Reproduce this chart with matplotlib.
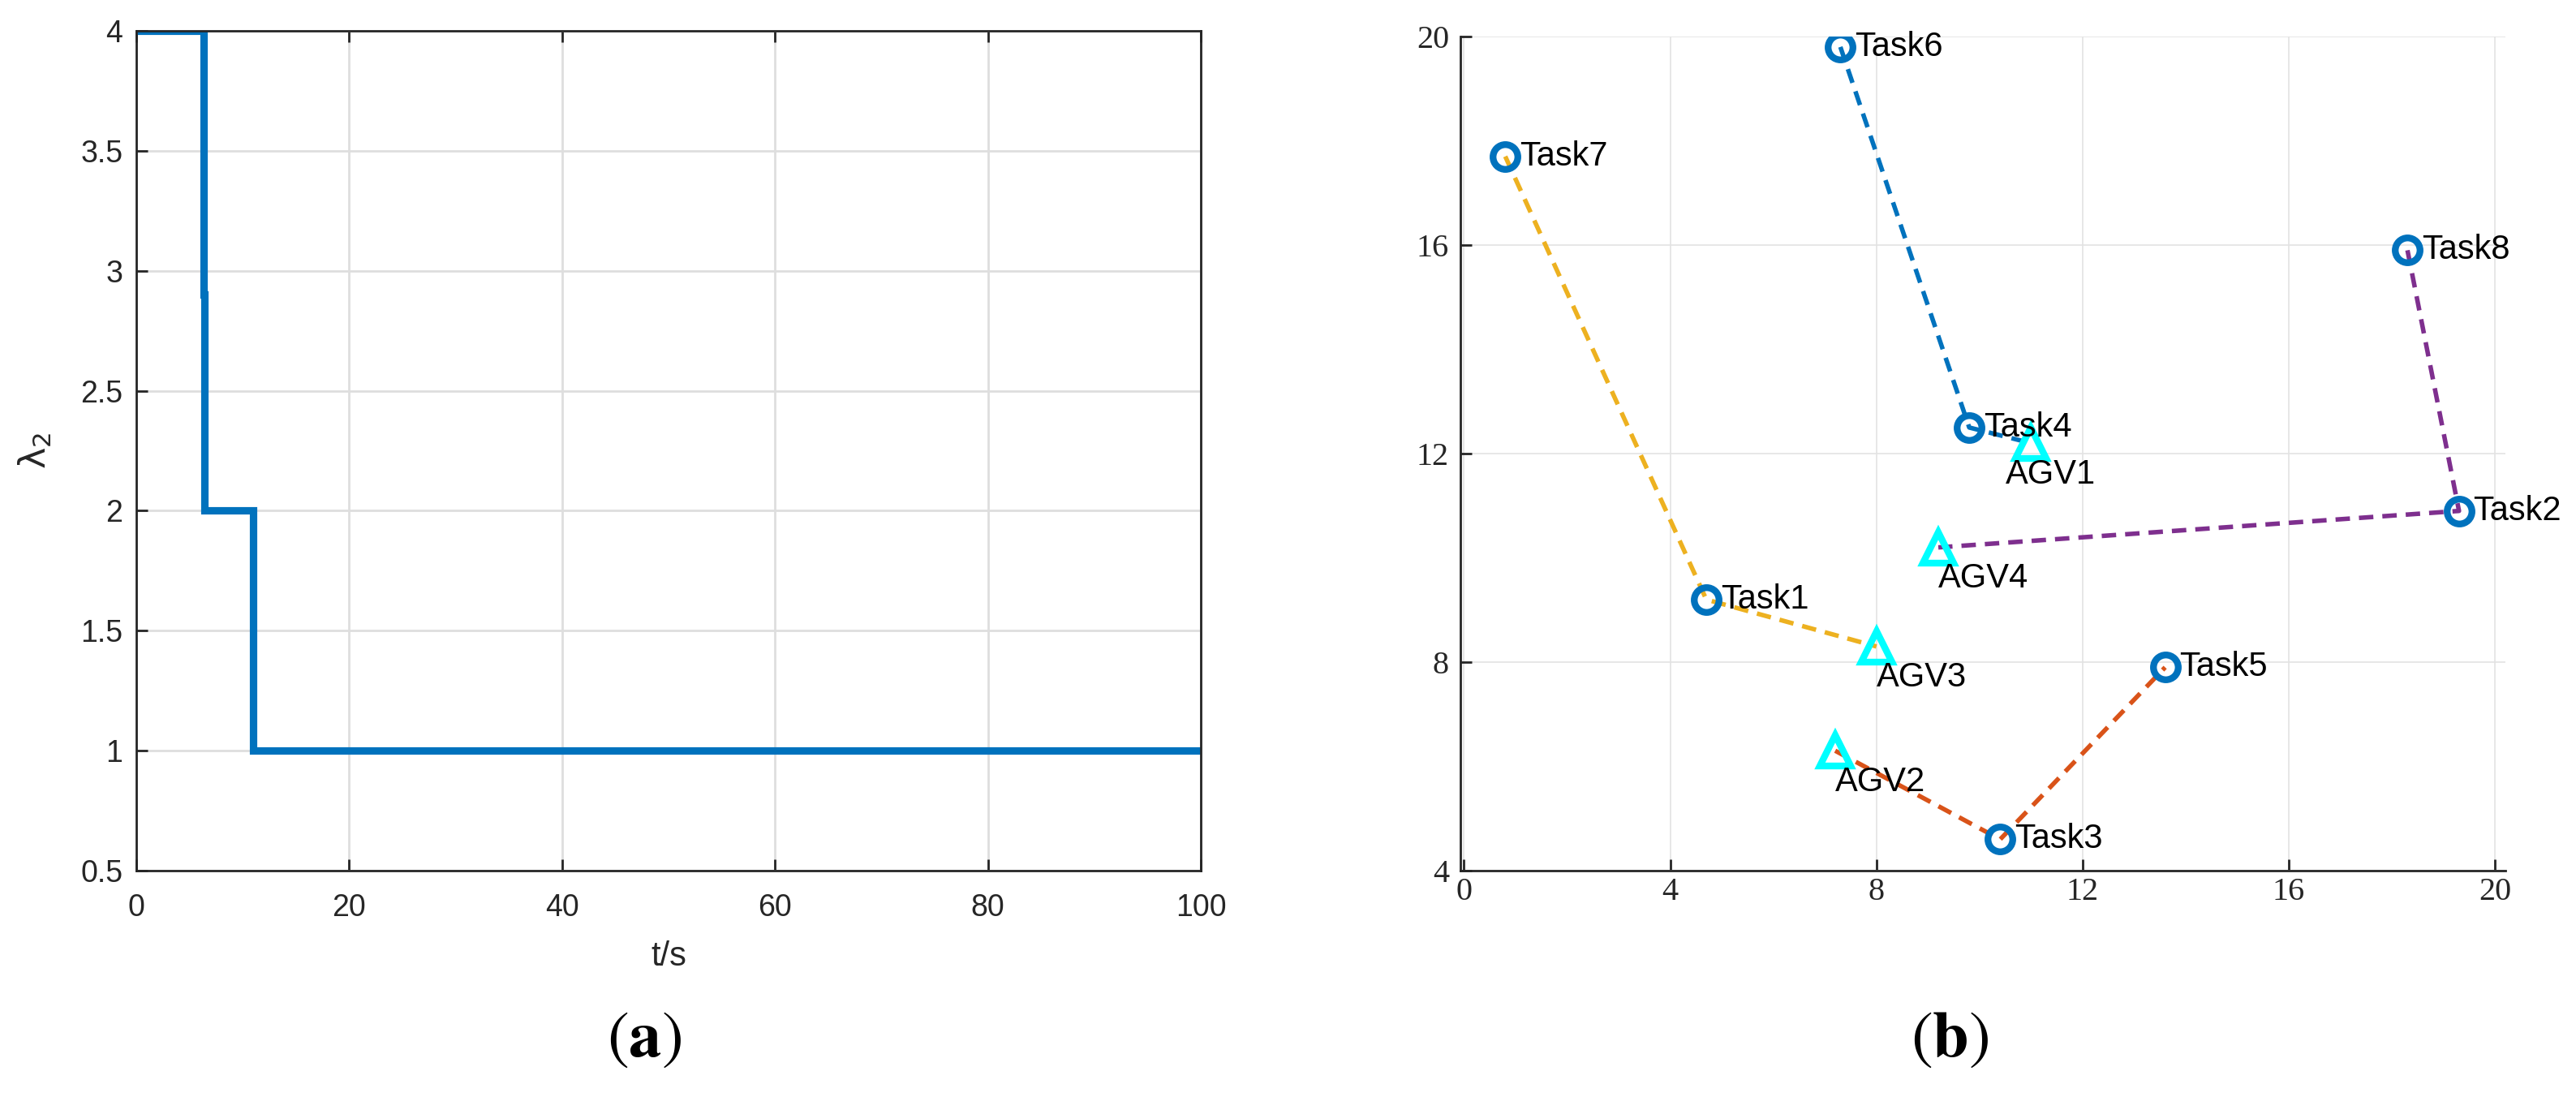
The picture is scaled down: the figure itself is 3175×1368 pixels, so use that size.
import matplotlib
matplotlib.use('Agg')
import matplotlib.pyplot as plt
import numpy as np

# ---- data: panel (a) algebraic connectivity over time
t_vals = [0, 6.3, 6.3, 6.4, 6.4, 11.0, 11.0, 100]
lam_vals = [4, 4, 2.9, 2.9, 2, 2, 1, 1]

# ---- data: panel (b) task / AGV positions
task_names = ['Task1', 'Task2', 'Task3', 'Task4', 'Task5', 'Task6', 'Task7', 'Task8']
task_x = [4.7, 19.3, 10.4, 9.8, 13.6, 7.3, 0.8, 18.3]
task_y = [9.2, 10.9, 4.6, 12.5, 7.9, 19.8, 17.7, 15.9]

agv_names = ['AGV1', 'AGV2', 'AGV3', 'AGV4']
agv_x = [11.0, 7.2, 8.0, 9.2]
agv_y = [12.2, 6.3, 8.3, 10.2]

# routes: each chain of stops drawn as one dashed polyline
routes = [
    (['Task6', 'Task4', 'AGV1'], '#0072BD'),
    (['AGV2', 'Task3', 'Task5'], '#D95319'),
    (['Task7', 'Task1', 'AGV3'], '#EDB120'),
    (['Task8', 'Task2', 'AGV4'], '#7E2F8E'),
]

pos = {n: (x, y) for n, x, y in zip(task_names, task_x, task_y)}
pos.update({n: (x, y) for n, x, y in zip(agv_names, agv_x, agv_y)})

W, H, DPI = 3175, 1368, 200
fig = plt.figure(figsize=(W / DPI, H / DPI), dpi=DPI)
dark = '#262626'

# ---------------- panel (a)
ax1 = fig.add_axes([168 / W, 1 - 1073 / H, (1480 - 168) / W, (1073 - 38) / H])
ax1.plot(t_vals, lam_vals, color='#0072BD', linewidth=3.3, solid_joinstyle='miter')
ax1.set_xlim(0, 100)
ax1.set_ylim(0.5, 4)
ax1.set_xticks(np.arange(0, 101, 20))
ax1.set_yticks(np.arange(0.5, 4.01, 0.5))
ax1.set_yticklabels(['0.5', '1', '1.5', '2', '2.5', '3', '3.5', '4'])
ax1.grid(True, color='#dedede', linewidth=1.0)
ax1.set_axisbelow(True)
ax1.tick_params(direction='in', length=5, width=1.0, colors=dark, labelsize=13.5,
                top=True, right=False)
ax1.tick_params(axis='x', pad=10)
ax1.tick_params(axis='y', pad=6)
for lab in ax1.get_xticklabels() + ax1.get_yticklabels():
    lab.set_fontfamily('Liberation Sans')
for s in ax1.spines.values():
    s.set_color(dark)
    s.set_linewidth(1.0)
ax1.set_xlabel('t/s', fontsize=15, fontfamily='Liberation Sans', color=dark, labelpad=8)
ax1.set_ylabel(r'$\mathrm{\lambda}_2$', fontsize=16, color=dark, labelpad=12)

# ---------------- panel (b)
ax2 = fig.add_axes([1800 / W, 1 - 1073 / H, (3088 - 1800) / W, (1073 - 45) / H])
for names, col in routes:
    xs = [pos[n][0] for n in names]
    ys = [pos[n][1] for n in names]
    ax2.plot(xs, ys, linestyle=(0, (3.2, 2.0)), color=col, linewidth=2.0, zorder=2)

ax2.plot(task_x, task_y, linestyle='none', marker='o', markersize=11,
         markerfacecolor='none', markeredgecolor='#0072BD', markeredgewidth=3.0, zorder=3)
ax2.plot(agv_x, agv_y, linestyle='none', marker='^', markersize=14,
         markerfacecolor='none', markeredgecolor='cyan', markeredgewidth=3.0, zorder=3)

for n, x, y in zip(task_names, task_x, task_y):
    ax2.text(x + 0.28, y, n, fontsize=15, fontfamily='Liberation Sans',
             ha='left', va='center', zorder=4)
for n, x, y in zip(agv_names, agv_x, agv_y):
    dx = -0.5 if n == 'AGV1' else 0.0
    ax2.text(x + dx, y - 0.6, n, fontsize=15, fontfamily='Liberation Sans',
             ha='left', va='center', zorder=4)

ax2.set_xlim(-0.07, 20.2)
ax2.set_ylim(4, 20)
ax2.set_xticks(np.arange(0, 21, 4))
ax2.set_yticks(np.arange(4, 21, 4))
ax2.grid(True, color='#e3e3e3', linewidth=0.6)
ax2.set_axisbelow(True)
ax2.spines['top'].set_visible(False)
ax2.spines['right'].set_visible(False)
for s in ('left', 'bottom'):
    ax2.spines[s].set_color(dark)
    ax2.spines[s].set_linewidth(1.0)
ax2.tick_params(direction='in', length=5, width=1.0, colors=dark, labelsize=14.5)
ax2.tick_params(axis='x', pad=3)
ax2.tick_params(axis='y', pad=5)
for lab in ax2.get_xticklabels() + ax2.get_yticklabels():
    lab.set_fontfamily('Liberation Serif')

# ---------------- panel captions
fig.text(392 / 1568, 1 - 632 * 2.025 / H, r'$\mathrm{(}\mathbf{a}\mathrm{)}$',
         fontsize=29, ha='center', va='center', math_fontfamily='stix')
fig.text(1187 / 1568, 1 - 632 * 2.025 / H, r'$\mathrm{(}\mathbf{b}\mathrm{)}$',
         fontsize=29, ha='center', va='center', math_fontfamily='stix')

fig.savefig('out.png', dpi=DPI, facecolor='white')
